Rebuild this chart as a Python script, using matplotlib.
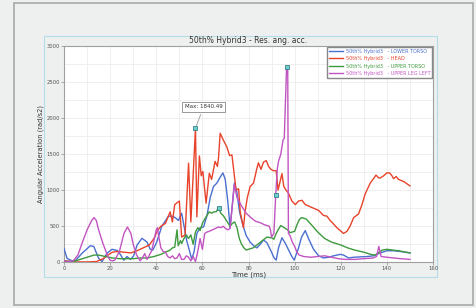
import matplotlib
matplotlib.use("Agg")
import matplotlib.pyplot as plt
from matplotlib.patches import Rectangle
from matplotlib.ticker import MultipleLocator

# ---- data (time in ms, value in rad/s2) ----
head_t = [0, 5, 10, 14, 17, 19, 21, 23, 26, 29, 32, 35, 37, 39, 40.5, 42, 44, 45, 46,
          47, 48, 50, 51, 52.5, 54, 55, 57, 57.6, 58.7, 59.5, 60.2, 61.6, 63, 64, 65.5,
          66.5, 67, 67.7, 69, 70.6, 71.8, 72.8, 73.5, 74.6, 75.7, 76.4, 77.8, 78.5, 79.5,
          80.7, 82.2, 83.6, 84.3, 85.4, 86.5, 87.7, 88.7, 89.7, 90.8, 92, 92.8, 94.5, 95.3,
          96.3, 97.3, 98.8, 100.3, 101.7, 103.2, 104.6, 106.8, 108.9, 110.4, 112.5, 114,
          115.4, 116.9, 118.3, 120.5, 121.2, 122.7, 124, 125.6, 127.7, 129.2, 130.6, 132.8,
          134.2, 135.3, 136.4, 137.1, 138.6, 140, 141.2, 142.2, 142.9, 144, 145, 147.3, 150]
head_v = [20, 5, 5, 10, 50, 100, 140, 150, 140, 130, 165, 210, 240, 330, 440, 500, 540, 620, 700,
          560, 800, 850, 350, 380, 1375, 560, 1860, 630, 1475, 1200, 1260, 820, 1235, 1150, 1400,
          1330, 1450, 1790, 1700, 1600, 1480, 1490, 1300, 1000, 1020, 700, 480, 700, 900,
          1050, 1100, 1300, 1380, 1290, 1390, 1410, 1330, 1290, 1270, 1270, 1000, 1230, 1050,
          1000, 960, 850, 800, 850, 860, 800, 770, 740, 720, 650, 640,
          580, 530, 480, 420, 400, 430, 500, 620, 670, 800, 950, 1100,
          1160, 1210, 1170, 1170, 1200, 1240, 1240, 1200, 1160, 1190, 1150, 1120, 1060]

lower_t = [0, 1.3, 3.5, 5, 7.8, 11.4, 12.9, 15, 16.5, 18.6, 20.8, 23, 24.4, 25.9, 27.3, 28.8,
           30.2, 31.7, 33.8, 36, 37.4, 38.5, 40.2, 42.4, 45.3, 46.7, 48.2, 49.6, 51, 52, 53.2,
           54.4, 55.4, 56.4, 57.6, 59, 60.5, 62, 63.4, 64.8, 66.3, 67.7, 68.9, 69.9, 71, 72,
           73, 73.9, 74.9, 76.1, 77.5, 79, 80.7, 82.2, 83.6, 85.1, 86.5, 88, 89.7, 91.1, 92,
           93, 94.5, 96, 97.4, 98.8, 99.8, 101.7, 103, 104.6, 106, 108.2, 110.4, 112.5, 114.7,
           116.9, 119.8, 121.2, 123.4, 125.6, 128.5, 131.4, 134.2, 137.1, 140, 142.9, 145.8, 150]
lower_v = [190, 55, 20, 25, 125, 230, 220, 55, 10, 125, 180, 165, 110, 30, 80, 40,
           90, 240, 333, 280, 180, 170, 280, 500, 640, 640, 620, 580, 680, 510, 300,
           160, 40, 150, 400, 480, 490, 650, 900, 1050, 1100, 1180, 1240, 1150, 850, 480,
           800, 1100, 980, 700, 520, 370, 280, 230, 200, 250, 310, 270, 160, 60, 30,
           200, 340, 260, 170, 80, 30, 200, 350, 440, 330, 180, 90, 60, 70,
           90, 110, 100, 60, 70, 75, 80, 90, 130, 160, 160, 150, 130]

upper_t = [0, 3, 5, 8, 10, 13, 15, 18, 21, 24, 27, 30, 33, 36, 39, 42, 44, 46, 47, 48, 49,
           49.5, 50.5, 51, 52, 53, 54, 55, 56, 57, 58, 59, 60, 61, 62, 63, 64, 65, 66, 67,
           68, 69, 70, 71, 72, 73, 74, 75, 76, 77, 78, 79, 80, 82, 84, 86, 88, 90, 91, 92,
           93, 94, 95, 97, 98, 100, 101, 102, 103, 105, 107, 110, 113, 116, 120, 123, 126,
           130, 133, 135, 138, 140, 145, 150]
upper_v = [20, 10, 20, 50, 70, 100, 100, 80, 60, 50, 50, 50, 60, 60, 80, 110, 140, 170, 200,
           210, 450, 230, 300, 260, 330, 380, 330, 380, 250, 420, 480, 440, 540, 600, 650, 700,
           680, 700, 700, 760, 680, 650, 600, 550, 500, 540, 560, 480, 330, 250, 200, 170,
           180, 200, 250, 300, 350, 340, 320, 400, 460, 510, 490, 450, 410, 430, 520, 590,
           620, 600, 530, 420, 330, 280, 240, 200, 170, 140, 110, 100, 170, 180, 160, 130]

leg_t = [0, 2, 4, 6, 8, 10, 12, 13, 14, 15, 17, 19, 20, 21, 22, 24, 26, 27.5, 29, 30, 31.5,
         33, 34, 35, 36, 37, 38, 39, 40, 40.5, 41, 42, 43, 44, 45, 46, 47, 48, 49, 50, 51,
         52, 53, 54, 55, 56, 57, 58, 59, 60, 61, 62, 63, 65, 67, 68, 69, 70, 71, 72, 73,
         73.8, 75, 77, 79, 81, 83, 85, 87, 89, 89.5, 90, 91, 91.8, 92.5, 93, 94, 95, 95.5,
         96.5, 97, 97.3, 98, 99, 100, 101, 102, 104, 107, 110, 113, 116, 119, 122, 126, 130,
         134, 135.5, 136.5, 137.5, 140, 143, 146, 150]
leg_v = [20, 10, 20, 100, 280, 450, 580, 620, 580, 450, 250, 80, 30, 20, 30, 150, 400, 490,
         400, 250, 100, 20, 60, 120, 40, 100, 160, 300, 450, 480, 370, 200, 150, 140, 80, 60,
         90, 50, 60, 120, 40, 40, 90, 70, 20, 80, 10, 150, 330, 180, 400, 420, 430, 460, 490,
         480, 500, 470, 450, 470, 800, 1080, 900, 780, 680, 620, 570, 550, 520, 500, 450, 350,
         400, 940, 1300, 1400, 1500, 1700, 1720, 2710, 2700, 400, 370, 280, 220, 140, 100, 80,
         70, 80, 90, 70, 50, 40, 40, 50, 60, 80, 220, 80, 70, 60, 50, 40]

labels = ["50th% Hybrid3   - LOWER TORSO", "50th% Hybrid3   - HEAD",
          "50th% Hybrid3   - UPPER TORSO", "50th% Hybrid3   - UPPER LEG LEFT"]
colors = ["#4a6fd0", "#e8432b", "#3d9a3d", "#c254c2"]

# marked points (time, value)
mark_t = [57, 67, 91.8, 96.5]
mark_v = [1860, 760, 940, 2710]

bg = "#eef0ef"
fig = plt.figure(figsize=(4.76, 3.08), dpi=100, facecolor=bg)

# outer frame and inner panel (behind the axes)
fig.patches.append(Rectangle((0.0294, 0.0097), 0.964, 0.9805, transform=fig.transFigure,
                             facecolor=bg, edgecolor="#a8a8a8", linewidth=1.2, zorder=-10))
fig.patches.append(Rectangle((0.0924, 0.1006), 0.8256, 0.7825, transform=fig.transFigure,
                             facecolor=bg, edgecolor="#b4dde8", linewidth=0.8, zorder=-9))

ax = fig.add_axes([0.1345, 0.1484, 0.7752, 0.7022])
ax.set_zorder(1)
ax.set_facecolor("white")

series = [(lower_t, lower_v), (head_t, head_v), (upper_t, upper_v), (leg_t, leg_v)]
for (t, v), c, lab in zip(series, colors, labels):
    ax.plot(t, v, color=c, linewidth=1.0, label=lab, zorder=3)

ax.scatter(mark_t, mark_v, marker="s", s=7, facecolor="#6fd0c8", edgecolor="#1f6f7a",
           linewidths=0.5, zorder=5)

ax.annotate("Max: 1840.49", xy=(mark_t[0], mark_v[0]), xytext=(60.5, 2155),
            fontsize=4, color="#333333", ha="center", va="center",
            bbox=dict(boxstyle="square,pad=0.4", facecolor="white", edgecolor="#888888", lw=0.6),
            arrowprops=dict(arrowstyle="-", color="#999999", lw=0.6), zorder=6)

ax.set_xlim(0, 160)
ax.set_ylim(0, 3000)
ax.xaxis.set_major_locator(MultipleLocator(20))
ax.xaxis.set_minor_locator(MultipleLocator(10))
ax.yaxis.set_major_locator(MultipleLocator(500))
ax.yaxis.set_minor_locator(MultipleLocator(250))
ax.grid(True, which="both", color="#ececec", linewidth=0.6, zorder=0)
ax.set_axisbelow(True)
ax.tick_params(which="major", labelsize=3.8, labelcolor="#555555", length=2, width=0.5,
               color="#888888", pad=1)
ax.tick_params(which="minor", length=0)
for s in ax.spines.values():
    s.set_color("#a0a0a0")
    s.set_linewidth(0.8)

ax.set_title("50th% Hybrid3 - Res. ang. acc.", fontsize=5.5, color="#333333", pad=2.5)
ax.set_xlabel("Time (ms)", fontsize=5, color="#333333", labelpad=0)
ax.set_ylabel("Angular Acceleration (rad/s2)", fontsize=4.8, color="#333333", labelpad=2)

leg = ax.legend(loc="upper right", fontsize=3.5, frameon=True, fancybox=False,
                handlelength=3.0, handletextpad=0.5, labelspacing=0.5,
                borderpad=0.4, borderaxespad=0.15, framealpha=1)
leg.get_frame().set_edgecolor("#888888")
leg.get_frame().set_linewidth(1.0)
for txt, c in zip(leg.get_texts(), colors):
    txt.set_color(c)

fig.savefig("out.png", dpi=100, facecolor=bg)
